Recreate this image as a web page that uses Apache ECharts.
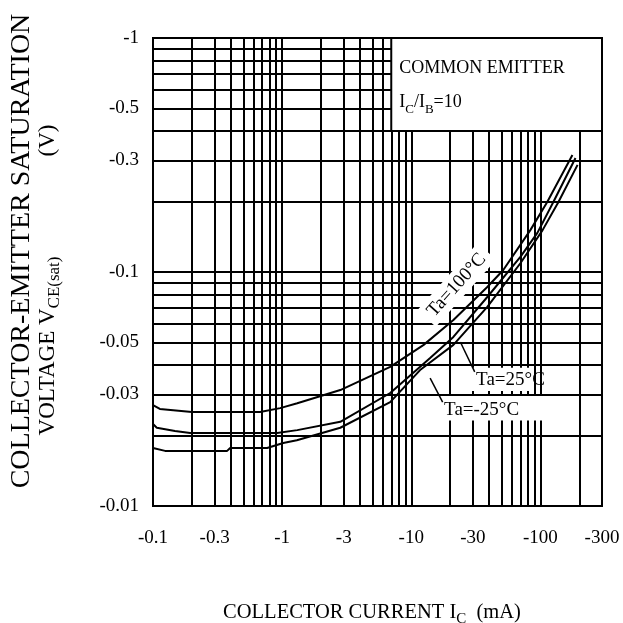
<!DOCTYPE html>
<html>
<head>
<meta charset="utf-8">
<script src="https://cdn.jsdelivr.net/npm/echarts@6/dist/echarts.min.js"></script>
<style>
html,body{margin:0;padding:0;background:#fff;}
#chart{width:623px;height:623px;}
</style>
</head>
<body>
<div id="chart"></div>
<script>
// ---- axis ranges & tick labels ----
const xMin = 0.1, xMax = 300;
const yMin = 0.01, yMax = 1;
const xTickValues = [0.1, 0.3, 1, 3, 10, 30, 100, 300];
const xTickLabels = ['-0.1', '-0.3', '-1', '-3', '-10', '-30', '-100', '-300'];
const yTickValues = [1, 0.5, 0.3, 0.1, 0.05, 0.03, 0.01];
const yTickLabels = ['-1', '-0.5', '-0.3', '-0.1', '-0.05', '-0.03', '-0.01'];

// ---- log grid lines ----
const xGridValues = [0.2, 0.3, 0.4, 0.5, 0.6, 0.7, 0.8, 0.9,
                     1, 2, 3, 4, 5, 6, 7, 8, 9,
                     10, 20, 30, 40, 50, 60, 70, 80, 90,
                     100, 200];
const yGridValues = [0.02, 0.03, 0.04, 0.05, 0.06, 0.07, 0.08, 0.09,
                     0.1, 0.2, 0.3, 0.4, 0.5, 0.6, 0.7, 0.8, 0.9];

// ---- curves: collector current (mA, magnitude) vs VCE(sat) (V, magnitude) ----
const ta100X = [0.1, 0.113, 0.2, 0.675, 0.965, 1.31, 2.82, 6.87, 12.4, 21.2, 38.8, 51.6, 83.6, 113, 177];
const ta100Y = [0.027, 0.026, 0.0252, 0.0252, 0.0262, 0.0275, 0.0313, 0.0393, 0.0487, 0.0624, 0.0863, 0.102, 0.151, 0.199, 0.316];

const ta25X = [0.1, 0.107, 0.148, 0.194, 0.3, 0.914, 1.31, 2.82, 6.87, 14.0, 21.2, 38.8, 70, 94.8, 126, 187];
const ta25Y = [0.0224, 0.0216, 0.0209, 0.0205, 0.0205, 0.0205, 0.0211, 0.0229, 0.0304, 0.0429, 0.0528, 0.0782, 0.116, 0.147, 0.199, 0.307];

const taM25X = [0.1, 0.124, 0.375, 0.396, 0.765, 1.02, 1.30, 2.82, 6.87, 11.7, 21.2, 38.8, 70, 104, 138, 194];
const taM25Y = [0.0177, 0.0172, 0.0172, 0.0177, 0.0177, 0.0186, 0.0191, 0.0216, 0.0278, 0.0381, 0.0488, 0.0709, 0.109, 0.151, 0.199, 0.287];

// ---- annotations (data units) ----
const boxCorner = [7, 0.4];
const label100Anchor = [22.5, 0.088];
const label25Anchor = [31.5, 0.0345];
const labelM25Anchor = [17.8, 0.0257];
const leader25 = [[24.0, 0.0502], [31.0, 0.0374]];
const leaderM25 = [[14.0, 0.0352], [17.5, 0.0278]];
const clearM25 = [[17, 0.0232], [115, 0.0295]];
const clear25 = [[28, 0.031], [85, 0.039]];

const FONT = 'Liberation Serif, Times New Roman, serif';

function pairs(xs, ys) { return xs.map((x, i) => [x, ys[i]]); }

const chart = echarts.init(document.getElementById('chart'), null, {renderer: 'canvas'});

const curveStyle = {color: '#000', width: 2};
const hiddenSymbol = {symbol: 'circle', symbolSize: 1, itemStyle: {color: 'rgba(0,0,0,0)'}};

function textLabel(txt, extra) {
  return Object.assign({
    show: true, formatter: txt, color: '#000', fontFamily: FONT, fontSize: 19
  }, extra);
}

const option = {
  animation: false,
  backgroundColor: '#fff',
  grid: {left: 153, top: 38, width: 449, height: 468, show: true,
         borderColor: '#000', borderWidth: 2, backgroundColor: '#fff'},
  xAxis: {type: 'log', logBase: 10, min: xMin, max: xMax,
          axisLine: {show: false}, axisTick: {show: false},
          axisLabel: {show: false}, splitLine: {show: false}},
  yAxis: {type: 'log', logBase: 10, min: yMin, max: yMax,
          axisLine: {show: false}, axisTick: {show: false},
          axisLabel: {show: false}, splitLine: {show: false}},
  series: [
    {
      name: 'grid', type: 'line', data: [], silent: true,
      markLine: {
        silent: true, z: 1, symbol: ['none', 'none'], label: {show: false},
        lineStyle: {color: '#000', width: 2, type: 'solid'},
        emphasis: {disabled: true},
        data: xGridValues.map(v => ({xAxis: v})).concat(yGridValues.map(v => ({yAxis: v})))
      },
      markArea: {
        silent: true, z: 3,
        data: [
          [{coord: boxCorner,
            itemStyle: {color: '#fff', borderColor: '#000', borderWidth: 2},
            label: {show: true, position: 'insideTopLeft', distance: 0, padding: [14, 0, 0, 9],
                    color: '#000', fontFamily: FONT,
                    formatter: '{t|COMMON EMITTER}\n{t|I}{s|C}{t|/I}{s|B}{t|=10}',
                    rich: {t: {fontSize: 18, fontFamily: FONT, color: '#000', lineHeight: 34, verticalAlign: 'middle'},
                           s: {fontSize: 13, fontFamily: FONT, color: '#000', lineHeight: 34, verticalAlign: 'bottom', padding: [0, 0, 3, 0]}}}},
           {coord: [xMax, yMax]}],
          [{coord: clearM25[0], itemStyle: {color: '#fff', borderWidth: 0}, label: {show: false}}, {coord: clearM25[1]}],
          [{coord: clear25[0], itemStyle: {color: '#fff', borderWidth: 0}, label: {show: false}}, {coord: clear25[1]}]
        ]
      }
    },
    {
      name: 'Ta=100°C', type: 'line', z: 5, showSymbol: false, symbol: 'none',
      lineStyle: curveStyle, data: pairs(ta100X, ta100Y),
      markPoint: Object.assign({silent: true, z: 4, data: [{coord: label100Anchor,
        label: textLabel('Ta=100°C', {position: 'inside', rotate: 48, backgroundColor: '#fff', padding: [3, 6]})}]}, hiddenSymbol)
    },
    {
      name: 'Ta=25°C', type: 'line', z: 5, showSymbol: false, symbol: 'none',
      lineStyle: curveStyle, data: pairs(ta25X, ta25Y),
      markPoint: Object.assign({silent: true, z: 4, data: [{coord: label25Anchor,
        label: textLabel('Ta=25°C', {position: 'right', distance: 0})}]}, hiddenSymbol),
      markLine: {silent: true, z: 6, symbol: ['none', 'none'], label: {show: false},
        lineStyle: {color: '#000', width: 1.5, type: 'solid'},
        data: [[{coord: leader25[0]}, {coord: leader25[1]}]]}
    },
    {
      name: 'Ta=-25°C', type: 'line', z: 5, showSymbol: false, symbol: 'none',
      lineStyle: curveStyle, data: pairs(taM25X, taM25Y),
      markPoint: Object.assign({silent: true, z: 4, data: [{coord: labelM25Anchor,
        label: textLabel('Ta=-25°C', {position: 'right', distance: 0})}]}, hiddenSymbol),
      markLine: {silent: true, z: 6, symbol: ['none', 'none'], label: {show: false},
        lineStyle: {color: '#000', width: 1.5, type: 'solid'},
        data: [[{coord: leaderM25[0]}, {coord: leaderM25[1]}]]}
    }
  ]
};

chart.setOption(option);

// ---- tick labels and axis titles as text placed through the chart's own scales ----
const graphics = [];
xTickValues.forEach((v, i) => {
  const p = chart.convertToPixel({gridIndex: 0}, [v, yMin]);
  graphics.push({type: 'text', x: p[0], y: p[1] + 23, silent: true,
    style: {text: xTickLabels[i], fill: '#000', fontFamily: FONT, fontSize: 19, align: 'center', verticalAlign: 'top'}});
});
yTickValues.forEach((v, i) => {
  const p = chart.convertToPixel({gridIndex: 0}, [xMin, v]);
  graphics.push({type: 'text', x: p[0] - 14, y: p[1], silent: true,
    style: {text: yTickLabels[i], fill: '#000', fontFamily: FONT, fontSize: 19, align: 'right', verticalAlign: 'middle'}});
});
graphics.push({type: 'text', x: 372, y: 613, silent: true,
  style: {text: '{a|COLLECTOR CURRENT I}{s|C}{a|  (mA)}', align: 'center', verticalAlign: 'middle',
    rich: {a: {fontSize: 20.5, fontFamily: FONT, fill: '#000', lineHeight: 28, verticalAlign: 'middle'},
           s: {fontSize: 15, fontFamily: FONT, fill: '#000', lineHeight: 28, verticalAlign: 'bottom'}}}});
graphics.push({type: 'text', x: 22, y: 251, rotation: Math.PI / 2, silent: true,
  style: {text: 'COLLECTOR-EMITTER SATURATION', fill: '#000', fontFamily: FONT, fontSize: 28,
    align: 'center', verticalAlign: 'middle'}});
graphics.push({type: 'text', x: 48, y: 280, rotation: Math.PI / 2, silent: true,
  style: {text: '{a|VOLTAGE V}{s|CE(sat)}{g|}{a|(V)}', align: 'center', verticalAlign: 'middle',
    rich: {a: {fontSize: 23, fontFamily: FONT, fill: '#000', lineHeight: 30, verticalAlign: 'middle'},
           s: {fontSize: 17, fontFamily: FONT, fill: '#000', lineHeight: 30, verticalAlign: 'bottom'},
           g: {width: 100, lineHeight: 30}}}});
chart.setOption({graphic: graphics});
</script>
</body>
</html>
